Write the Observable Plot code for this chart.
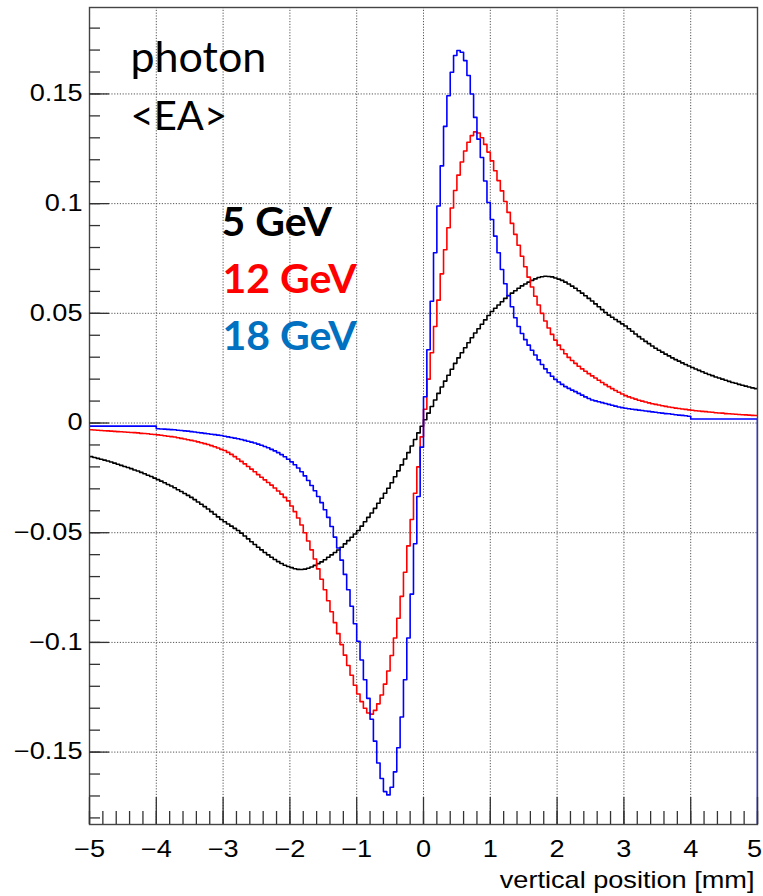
<!DOCTYPE html>
<html>
<head>
<meta charset="utf-8">
<script src="https://cdn.jsdelivr.net/npm/d3@7"></script>
<script src="https://cdn.jsdelivr.net/npm/@observablehq/plot@0.6"></script>
<style>
html, body { margin: 0; padding: 0; background: #fff; overflow: hidden; }
#chart svg { display: block; }
</style>
</head>
<body>
<div id="chart"></div>
<script>
// ---------------- data ----------------
const binStart = -5;
const binWidth = 0.05;

const xMajorTicks = [-5, -4, -3, -2, -1, 0, 1, 2, 3, 4, 5];
const xMinorTicks = [-5, -4.8, -4.6, -4.4, -4.2, -4, -3.8, -3.6, -3.4, -3.2, -3, -2.8, -2.6, -2.4, -2.2, -2, -1.8, -1.6, -1.4, -1.2, -1, -0.8, -0.6, -0.4, -0.2, 0, 0.2, 0.4, 0.6, 0.8, 1, 1.2, 1.4, 1.6, 1.8, 2, 2.2, 2.4, 2.6, 2.8, 3, 3.2, 3.4, 3.6, 3.8, 4, 4.2, 4.4, 4.6, 4.8, 5];
const xGridTicks = [-4, -3, -2, -1, 0, 1, 2, 3, 4];
const yMajorTicks = [-0.15, -0.1, -0.05, 0, 0.05, 0.1, 0.15];
const yMinorTicks = [-0.18, -0.17, -0.16, -0.15, -0.14, -0.13, -0.12, -0.11, -0.1, -0.09, -0.08, -0.07, -0.06, -0.05, -0.04, -0.03, -0.02, -0.01, 0, 0.01, 0.02, 0.03, 0.04, 0.05, 0.06, 0.07, 0.08, 0.09, 0.1, 0.11, 0.12, 0.13, 0.14, 0.15, 0.16, 0.17, 0.18];

const annotations = ["photon", "<EA>"];
const seriesNames = ["5 GeV", "12 GeV", "18 GeV"];
const xTitle = "vertical position [mm]";

// 5 GeV (black), 200 bins of 0.05 mm from -5 to 5
const gev5 = [
-0.0153,-0.0157,-0.0161,-0.0165,-0.0169, -0.0173,-0.0178,-0.0183,-0.0188,-0.0193,
-0.0198,-0.0203,-0.0208,-0.0214,-0.0219, -0.0225,-0.0231,-0.0238,-0.0244,-0.0251,
-0.0258,-0.0265,-0.0272,-0.0280,-0.0287, -0.0295,-0.0304,-0.0312,-0.0321,-0.0330,
-0.0339,-0.0349,-0.0360,-0.0370,-0.0381, -0.0392,-0.0404,-0.0416,-0.0428,-0.0440,
-0.0450,-0.0460,-0.0470,-0.0480,-0.0490, -0.0502,-0.0515,-0.0528,-0.0541,-0.0554,
-0.0566,-0.0578,-0.0590,-0.0601,-0.0612, -0.0622,-0.0632,-0.0640,-0.0648,-0.0654,
-0.0659,-0.0664,-0.0667,-0.0668,-0.0666, -0.0662,-0.0656,-0.0649,-0.0641,-0.0633,
-0.0623,-0.0612,-0.0601,-0.0590,-0.0579, -0.0566,-0.0551,-0.0536,-0.0521,-0.0506,
-0.0490,-0.0470,-0.0450,-0.0430,-0.0410, -0.0389,-0.0366,-0.0343,-0.0320,-0.0297,
-0.0272,-0.0245,-0.0218,-0.0191,-0.0164, -0.0135,-0.0105,-0.0075,-0.0045,-0.0015,
0.0015,0.0045,0.0075,0.0105,0.0135, 0.0164,0.0191,0.0218,0.0245,0.0272,
0.0297,0.0320,0.0343,0.0366,0.0389, 0.0410,0.0430,0.0450,0.0470,0.0490,
0.0508,0.0523,0.0538,0.0553,0.0568, 0.0581,0.0592,0.0603,0.0614,0.0625,
0.0634,0.0642,0.0650,0.0657,0.0663, 0.0667,0.0669,0.0668,0.0666,0.0661,
0.0656,0.0650,0.0642,0.0634,0.0624, 0.0614,0.0603,0.0592,0.0580,0.0568,
0.0556,0.0543,0.0530,0.0517,0.0504, 0.0492,0.0482,0.0472,0.0462,0.0452,
0.0442,0.0430,0.0418,0.0406,0.0394, 0.0383,0.0372,0.0362,0.0351,0.0341,
0.0332,0.0323,0.0314,0.0306,0.0297, 0.0289,0.0282,0.0274,0.0267,0.0260,
0.0253,0.0246,0.0240,0.0234,0.0227, 0.0221,0.0216,0.0210,0.0205,0.0200,
0.0195,0.0190,0.0185,0.0181,0.0176, 0.0172,0.0168,0.0164,0.0160,0.0157
];

// 12 GeV (red)
const gev12 = [
-0.0031,-0.0032,-0.0033,-0.0034,-0.0035, -0.0036,-0.0037,-0.0038,-0.0039,-0.0040,
-0.0041,-0.0042,-0.0043,-0.0044,-0.0045, -0.0047,-0.0048,-0.0049,-0.0051,-0.0052,
-0.0054,-0.0056,-0.0058,-0.0060,-0.0062, -0.0064,-0.0067,-0.0070,-0.0073,-0.0076,
-0.0079,-0.0082,-0.0086,-0.0090,-0.0094, -0.0098,-0.0103,-0.0108,-0.0114,-0.0120,
-0.0125,-0.0134,-0.0143,-0.0153,-0.0164, -0.0175,-0.0186,-0.0198,-0.0210,-0.0222,
-0.0235,-0.0247,-0.0259,-0.0271,-0.0283, -0.0296,-0.0310,-0.0324,-0.0339,-0.0355,
-0.0378,-0.0404,-0.0433,-0.0465,-0.0500, -0.0538,-0.0578,-0.0620,-0.0665,-0.0712,
-0.0760,-0.0810,-0.0860,-0.0910,-0.0960, -0.1010,-0.1058,-0.1105,-0.1150,-0.1195,
-0.1235,-0.1270,-0.1300,-0.1322,-0.1327, -0.1310,-0.1280,-0.1240,-0.1190,-0.1130,
-0.1060,-0.0980,-0.0890,-0.0790,-0.0680, -0.0560,-0.0440,-0.0320,-0.0200,-0.0063,
0.0063,0.0200,0.0320,0.0440,0.0560, 0.0680,0.0790,0.0890,0.0980,0.1060,
0.1130,0.1190,0.1240,0.1280,0.1310, 0.1327,0.1322,0.1300,0.1270,0.1235,
0.1195,0.1150,0.1105,0.1058,0.1010, 0.0960,0.0910,0.0860,0.0810,0.0760,
0.0712,0.0665,0.0620,0.0578,0.0538, 0.0500,0.0465,0.0433,0.0404,0.0378,
0.0355,0.0335,0.0316,0.0299,0.0285, 0.0272,0.0259,0.0247,0.0236,0.0225,
0.0215,0.0205,0.0195,0.0185,0.0175, 0.0166,0.0157,0.0148,0.0140,0.0132,
0.0125,0.0119,0.0114,0.0109,0.0104, 0.0100,0.0096,0.0092,0.0088,0.0085,
0.0082,0.0079,0.0076,0.0073,0.0071, 0.0068,0.0066,0.0064,0.0062,0.0060,
0.0058,0.0056,0.0055,0.0053,0.0052, 0.0050,0.0049,0.0047,0.0046,0.0045,
0.0043,0.0042,0.0041,0.0040,0.0039, 0.0038,0.0037,0.0036,0.0035,0.0034
];

// 18 GeV (blue)
const gev18 = [
-0.0014,-0.0014,-0.0014,-0.0014,-0.0014, -0.0014,-0.0014,-0.0014,-0.0014,-0.0014,
-0.0014,-0.0014,-0.0014,-0.0014,-0.0014, -0.0014,-0.0014,-0.0014,-0.0014,-0.0014,
-0.0026,-0.0027,-0.0028,-0.0029,-0.0030, -0.0031,-0.0033,-0.0034,-0.0036,-0.0037,
-0.0039,-0.0041,-0.0043,-0.0045,-0.0047, -0.0049,-0.0051,-0.0053,-0.0055,-0.0057,
-0.0060,-0.0063,-0.0066,-0.0069,-0.0072, -0.0075,-0.0079,-0.0083,-0.0087,-0.0091,
-0.0096,-0.0101,-0.0107,-0.0113,-0.0120, -0.0127,-0.0135,-0.0144,-0.0154,-0.0165,
-0.0177,-0.0190,-0.0205,-0.0222,-0.0241, -0.0262,-0.0285,-0.0309,-0.0335,-0.0363,
-0.0395,-0.0430,-0.0472,-0.0520,-0.0570, -0.0625,-0.0690,-0.0760,-0.0835,-0.0915,
-0.0995,-0.1080,-0.1170,-0.1255,-0.1350, -0.1450,-0.1550,-0.1620,-0.1680,-0.1695,
-0.1660,-0.1590,-0.1480,-0.1340,-0.1170, -0.0980,-0.0780,-0.0550,-0.0335,-0.0110,
0.0120,0.0334,0.0555,0.0776,0.0989, 0.1172,0.1352,0.1492,0.1599,0.1675,
0.1698,0.1690,0.1652,0.1584,0.1500, 0.1393,0.1294,0.1210,0.1103,0.1005,
0.0928,0.0852,0.0776,0.0700,0.0635, 0.0580,0.0530,0.0480,0.0440,0.0408,
0.0380,0.0355,0.0332,0.0310,0.0288, 0.0267,0.0247,0.0229,0.0213,0.0199,
0.0187,0.0176,0.0166,0.0158,0.0150, 0.0143,0.0135,0.0127,0.0119,0.0112,
0.0105,0.0101,0.0097,0.0093,0.0089, 0.0085,0.0081,0.0077,0.0073,0.0070,
0.0067,0.0065,0.0063,0.0061,0.0059, 0.0057,0.0055,0.0053,0.0051,0.0049,
0.0047,0.0045,0.0043,0.0042,0.0040, 0.0038,0.0036,0.0035,0.0033,0.0031,
0.0018,0.0018,0.0018,0.0018,0.0018, 0.0018,0.0018,0.0018,0.0018,0.0018,
0.0018,0.0018,0.0018,0.0018,0.0018, 0.0018,0.0018,0.0018,0.0018,0.0018
];
// the 18 GeV histogram's closing edge at x = 5 runs below the frame
const gev18Overflow = -0.3;

// ---------------- build ----------------
function steps(vals) {
  const pts = vals.map((v, i) => ({x: binStart + i * binWidth, y: v}));
  pts.push({x: binStart + vals.length * binWidth, y: vals[vals.length - 1]});
  return pts;
}
const blackPts = steps(gev5);
const redPts = steps(gev12);
const bluePts = steps(gev18).concat([{x: binStart + gev18.length * binWidth, y: gev18Overflow}]);

const W = 763, H = 896;
const mL = 89, mR = 6, mT = 7, mB = 72;
const fw = W - mL - mR, fh = H - mT - mB;
const fmt = d => (d < 0 ? "\u2212" : "") + Math.abs(d);

const lineColors = ["#000000", "#ff0000", "#0000ff"];
const legendColors = ["#000000", "#ff0000", "#0070c0"];
const annFont = "Lato, 'Open Sans', sans-serif";

const chart = Plot.plot({
  width: W, height: H,
  marginLeft: mL, marginRight: mR, marginTop: mT, marginBottom: mB,
  style: {fontFamily: "'Liberation Sans', Arial, sans-serif", fontSize: "23px", color: "#000", background: "#fff"},
  x: {domain: [-5, 5], ticks: xMajorTicks, tickFormat: fmt, tickSize: 0, tickPadding: 16, label: null},
  y: {domain: [-0.1830, 0.1894], ticks: yMajorTicks, tickFormat: fmt, tickSize: 0, tickPadding: 7, label: null},
  marks: [
    Plot.ruleX(xGridTicks, {x: d => d, stroke: "#555", strokeWidth: 1, strokeDasharray: "1.2,1.6"}),
    Plot.ruleY(yMajorTicks, {y: d => d, stroke: "#555", strokeWidth: 1, strokeDasharray: "1.2,1.6"}),
    Plot.line(blackPts, {x: "x", y: "y", curve: "step-after", stroke: lineColors[0], strokeWidth: 1.6, clip: true}),
    Plot.line(redPts, {x: "x", y: "y", curve: "step-after", stroke: lineColors[1], strokeWidth: 1.6, clip: true}),
    Plot.line(bluePts, {x: "x", y: "y", curve: "step-after", stroke: lineColors[2], strokeWidth: 1.6, clip: true}),
    Plot.frame({stroke: "#444", strokeWidth: 1.4}),
    Plot.tickY(yMinorTicks, {y: d => d, insetRight: fw - 11, stroke: "#333", strokeWidth: 1.3}),
    Plot.tickY(yMajorTicks, {y: d => d, insetRight: fw - 20, stroke: "#333", strokeWidth: 1.3}),
    Plot.tickX(xMinorTicks, {x: d => d, insetTop: fh - 13, stroke: "#333", strokeWidth: 1.3}),
    Plot.tickX(xMajorTicks, {x: d => d, insetTop: fh - 27, stroke: "#333", strokeWidth: 1.3}),
    Plot.text([annotations[0]], {text: d => d, frameAnchor: "top-left", textAnchor: "start", lineAnchor: "top", dx: 41, dy: 34, fontFamily: annFont, fontSize: 43, fill: "#000"}),
    Plot.text([annotations[1]], {text: d => d, frameAnchor: "top-left", textAnchor: "start", lineAnchor: "top", dx: 41, dy: 94, fontFamily: annFont, fontSize: 40, fill: "#000"}),
    ...seriesNames.map((name, i) =>
      Plot.text([name], {text: d => d, frameAnchor: "top-left", textAnchor: "start", lineAnchor: "top",
        dx: i === 0 ? 132 : 133, dy: 199 + i * 57, fontFamily: annFont, fontWeight: "bold", fontSize: 41, fill: legendColors[i]})
    ),
    Plot.text([xTitle], {text: d => d, frameAnchor: "bottom-right", textAnchor: "end", lineAnchor: "top", dx: -3, dy: 47, fill: "#000", fontSize: 23})
  ]
});

// the original axis lettering is horizontally stretched
chart.querySelectorAll("text").forEach(t => {
  if (t.closest('[font-family*="Lato"]')) return;
  const tr = t.getAttribute("transform") || "";
  const xAxis = t.closest('[aria-label*="x-axis"]');
  // keep the last x tick label inside the picture, as in the original
  const nudge = (xAxis && t.textContent === "5") ? " translate(-3,0)" : "";
  t.setAttribute("transform", (tr + nudge + " scale(1.18,1)").trim());
});

document.getElementById("chart").appendChild(chart);
</script>
</body>
</html>
